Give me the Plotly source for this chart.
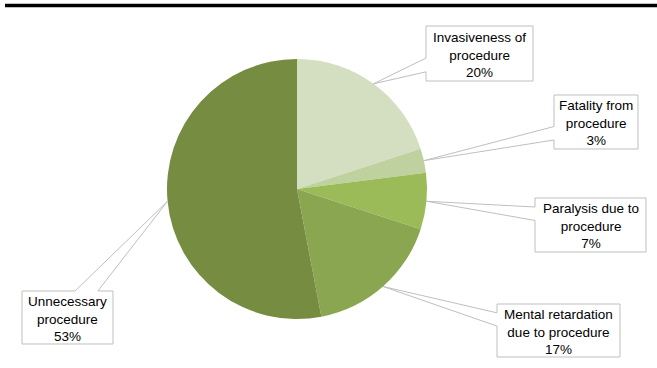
import math
import plotly.graph_objects as go

# ---- data ----
labels = ["Invasiveness of<br>procedure", "Fatality from<br>procedure", "Paralysis due to<br>procedure",
          "Mental retardation<br>due to procedure", "Unnecessary<br>procedure"]
values = [20, 3, 7, 17, 53]

# ---- style / layout ----
colors = ["#D3DFC0", "#BFD19F", "#9BBB59", "#8AA650", "#758C41"]
W, H = 657, 368
CX, CY, R = 297, 189, 130
# label boxes (left, top, right, bottom) in pixels
boxes = [(426, 26, 533, 81), (554, 95, 638, 149), (535, 198, 646, 252),
         (497, 304, 620, 357), (22, 291, 113, 344)]
GRAY = "#BFBFBF"


def px(x):
    return x / W


def py(y):
    return 1 - y / H


fig = go.Figure(go.Pie(
    labels=[l.replace("<br>", " ") for l in labels], values=values, sort=False,
    direction="clockwise", rotation=0, textinfo="none", hoverinfo="label+percent",
    marker=dict(colors=colors, line=dict(width=0)),
    domain=dict(x=[px(CX - R), px(CX + R)], y=[py(CY + R), py(CY - R)]),
    showlegend=False,
))

shapes = [dict(type="line", xref="paper", yref="paper", x0=px(5), x1=1, y0=py(5.5), y1=py(5.5),
               line=dict(color="black", width=3.5))]
annotations = []

total = sum(values)
cum = 0
for lab, v, (x0, y0, x1, y1) in zip(labels, values, boxes):
    mid = math.radians((cum + v / 2) / total * 360)
    cum += v
    tx = CX + R * math.sin(mid)
    ty = CY - R * math.cos(mid)
    w, h = x1 - x0, y1 - y0
    bcx, bcy = (x0 + x1) / 2, (y0 + y1) / 2
    dx, dy = (tx - bcx) / w, (ty - bcy) / h
    if abs(dx) >= abs(dy):
        side = "left" if dx < 0 else "right"
        f1, f2 = (2 / 12, 5 / 12) if ty < bcy else (7 / 12, 10 / 12)
    else:
        side = "top" if dy < 0 else "bottom"
        f1, f2 = (2 / 12, 5 / 12) if tx < bcx else (7 / 12, 10 / 12)
    pts = [(x0, y0)]
    if side == "top":
        pts += [(x0 + f1 * w, y0), (tx, ty), (x0 + f2 * w, y0)]
    pts.append((x1, y0))
    if side == "right":
        pts += [(x1, y0 + f1 * h), (tx, ty), (x1, y0 + f2 * h)]
    pts.append((x1, y1))
    if side == "bottom":
        pts += [(x0 + f2 * w, y1), (tx, ty), (x0 + f1 * w, y1)]
    pts.append((x0, y1))
    if side == "left":
        pts += [(x0, y0 + f2 * h), (tx, ty), (x0, y0 + f1 * h)]
    path = "M " + " L ".join(f"{px(a):.5f},{py(b):.5f}" for a, b in pts) + " Z"
    shapes.append(dict(type="path", xref="paper", yref="paper", path=path,
                       fillcolor="white", line=dict(color=GRAY, width=1)))
    pct = round(v / total * 100)
    annotations.append(dict(xref="paper", yref="paper", x=px(bcx), y=py(bcy + 1),
                            xanchor="center", yanchor="middle", showarrow=False, align="center",
                            text=f"{lab}<br>{pct}%",
                            font=dict(family="Liberation Sans, Arial", size=13.5, color="black")))

fig.update_layout(width=W, height=H, margin=dict(l=0, r=0, t=0, b=0),
                  paper_bgcolor="white", plot_bgcolor="white",
                  shapes=shapes, annotations=annotations)
fig.write_html("out.html")
